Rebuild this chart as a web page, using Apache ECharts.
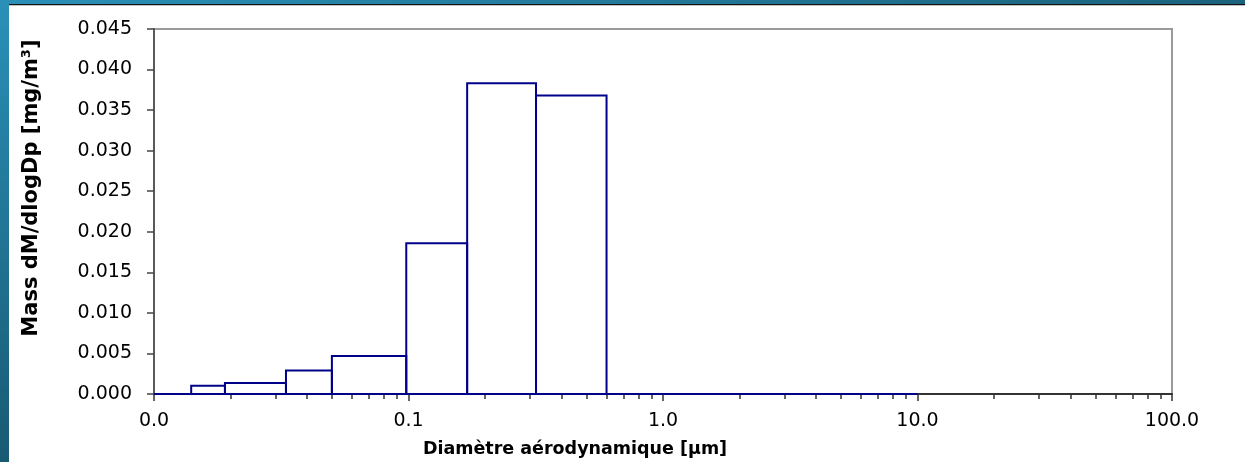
<!DOCTYPE html>
<html>
<head>
<meta charset="utf-8">
<script src="https://cdn.jsdelivr.net/npm/echarts@6/dist/echarts.min.js"></script>
<style>
html,body{margin:0;padding:0;background:#fff;}
#chart{width:1245px;height:462px;}
</style>
</head>
<body>
<div id="chart"></div>
<script>
// Bin edges (µm) and mass values (mg/m³) per bin
var binEdges = [0.01, 0.014, 0.019, 0.033, 0.05, 0.098, 0.17, 0.317, 0.6, 10];
var binValues = [0, 0.00102, 0.00136, 0.0029, 0.0047, 0.0186, 0.0383, 0.0368, 0];

// Axis tick labels
var xTickLabels = ['0.0', '0.1', '1.0', '10.0', '100.0'];
var yTickLabels = ['0.000', '0.005', '0.010', '0.015', '0.020', '0.025', '0.030', '0.035', '0.040', '0.045'];
var yStep = 0.005;
var minorMultipliers = [2, 3, 4, 5, 6, 7, 8, 9];
var decades = [0.01, 0.1, 1, 10];

var xTitle = 'Diamètre aérodynamique [µm]';
var yTitle = 'Mass dM/dlogDp [mg/m³]';

var data = binValues.map(function (v, i) { return [binEdges[i], binEdges[i + 1], v]; });
var minorExp = [];
decades.forEach(function (d) { minorMultipliers.forEach(function (m) { minorExp.push(Math.log10(d * m)); }); });

var FONT = 'DejaVu Sans';
var NAVY = '#000088';

var chart = echarts.init(document.getElementById('chart'), null, {renderer: 'canvas'});
chart.setOption({
  animation: false,
  backgroundColor: '#ffffff',
  grid: {left: 154, right: 73, top: 29, bottom: 68, show: true, borderColor: '#9a9a9a', borderWidth: 2, backgroundColor: 'transparent'},
  xAxis: [{
    type: 'log', logBase: 10, min: 0.01, max: 100, position: 'bottom',
    axisLine: {show: true, onZero: false, lineStyle: {color: '#333', width: 2}},
    axisTick: {show: true, length: 7, inside: false, lineStyle: {color: '#333', width: 1.5}},
    axisLabel: {
      show: true, margin: 18, color: '#000', fontFamily: FONT, fontSize: 19,
      showMinLabel: true, showMaxLabel: true,
      formatter: function (v) {
        var idx = Math.round(Math.log10(v) + 2);
        return xTickLabels[idx] !== undefined ? xTickLabels[idx] : '';
      }
    },
    splitLine: {show: false}
  }, {
    type: 'value', min: -2, max: 2, position: 'bottom',
    axisLine: {show: false, onZero: false},
    axisTick: {show: true, length: 5, inside: false, customValues: minorExp, lineStyle: {color: '#333', width: 1.5}},
    axisLabel: {show: false},
    splitLine: {show: false}
  }],
  yAxis: {
    type: 'value', min: 0, max: 0.045, interval: yStep,
    axisLine: {show: true, onZero: false, lineStyle: {color: '#5a5a5a', width: 2}},
    axisTick: {show: true, length: 7, inside: false, lineStyle: {color: '#444', width: 1.5}},
    axisLabel: {
      margin: 22, color: '#000', fontFamily: FONT, fontSize: 19,
      formatter: function (v) { return yTickLabels[Math.round(v / yStep)]; }
    },
    splitLine: {show: false}
  },
  graphic: [
    {type: 'rect', z: 100, shape: {x: 0, y: 0, width: 9, height: 462},
      style: {fill: new echarts.graphic.LinearGradient(0, 0, 0, 1, [{offset: 0, color: '#2a90b8'}, {offset: 1, color: '#185a72'}])}},
    {type: 'rect', z: 100, shape: {x: 0, y: 0, width: 1245, height: 4},
      style: {fill: new echarts.graphic.LinearGradient(0, 0, 1, 0, [{offset: 0, color: '#2a90b8'}, {offset: 1, color: '#1b627c'}])}},
    {type: 'rect', z: 100, shape: {x: 9, y: 4, width: 1236, height: 1.3}, style: {fill: '#111'}},
    {type: 'text', z: 100, x: 575, y: 449,
      style: {text: xTitle, font: 'bold 17.5px "DejaVu Sans"', fill: '#000', textAlign: 'center', textVerticalAlign: 'middle'}},
    {type: 'text', z: 100, x: 32, y: 188, rotation: Math.PI / 2,
      style: {text: yTitle, font: 'bold 21px "DejaVu Sans"', fill: '#000', textAlign: 'center', textVerticalAlign: 'middle'}}
  ],
  series: [{
    type: 'custom',
    xAxisIndex: 0, yAxisIndex: 0,
    data: data,
    encode: {x: [0, 1], y: 2},
    z: 5,
    renderItem: function (params, api) {
      var x0 = api.value(0), x1 = api.value(1), y = api.value(2);
      var p0 = api.coord([x0, 0]);
      var p1 = api.coord([x1, y]);
      if (y === 0) {
        return {type: 'line', shape: {x1: p0[0], y1: p0[1], x2: p1[0], y2: p0[1]},
          style: {stroke: NAVY, lineWidth: 2}};
      }
      return {type: 'rect', shape: {x: p0[0], y: p1[1], width: p1[0] - p0[0], height: p0[1] - p1[1]},
        style: {fill: 'none', stroke: NAVY, lineWidth: 2}};
    }
  }]
});
</script>
</body>
</html>
